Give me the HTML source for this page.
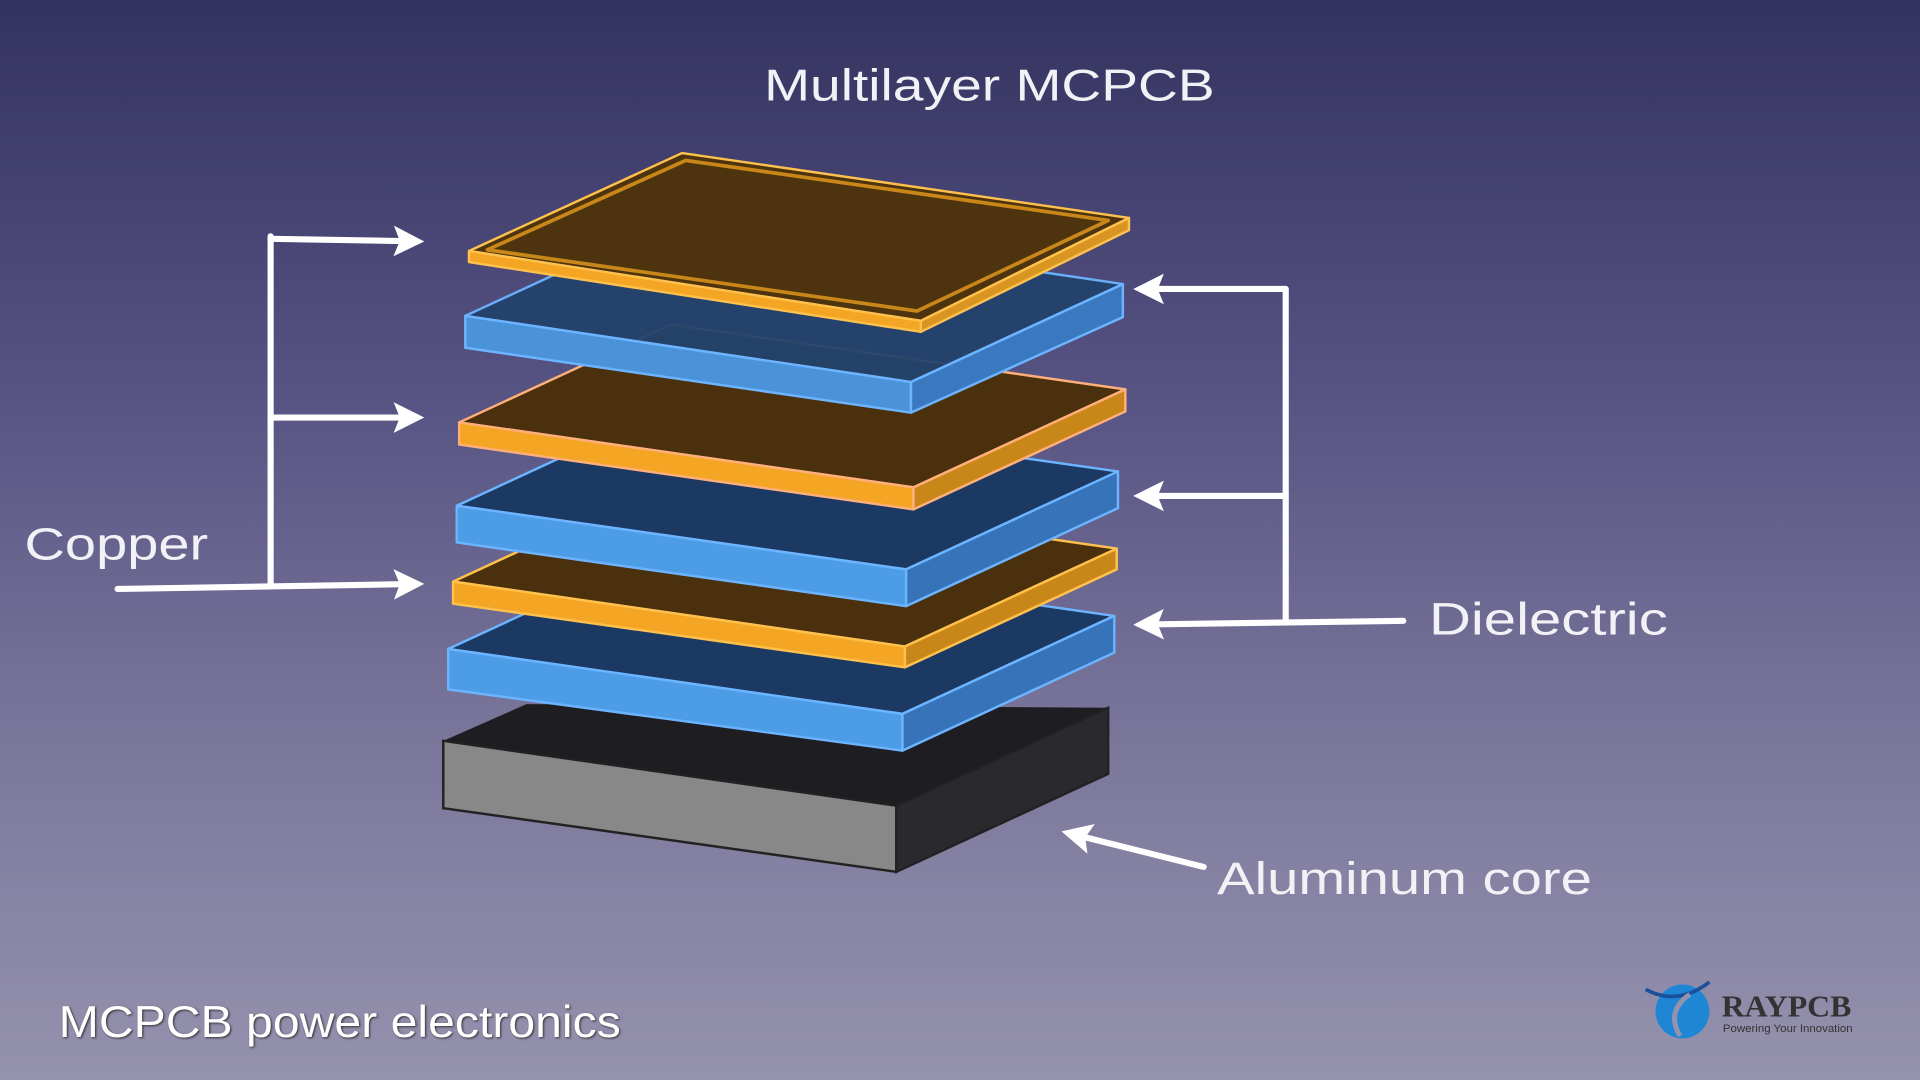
<!DOCTYPE html>
<html><head><meta charset="utf-8"><style>
html,body{margin:0;padding:0;width:1920px;height:1080px;overflow:hidden}
body{background:linear-gradient(180deg,#34325f 0%,#555282 35%,#7c789c 70%,#9592ae 100%)}
svg{display:block}
</style></head><body>
<svg width="1920" height="1080" viewBox="0 0 1568 882" preserveAspectRatio="none" xmlns="http://www.w3.org/2000/svg" font-family="Liberation Sans, DejaVu Sans, sans-serif">
<defs>
<marker id="ah" markerWidth="5" markerHeight="5" refX="2.5" refY="2.5" orient="auto" markerUnits="strokeWidth"><path d="M0,0 L5,2.5 L0,5 L1,2.5 z" fill="#fff"/></marker>
</defs>
<!-- aluminum -->
<polygon points="362,605 430,575 905,578 732,658" fill="#1e1e22"/>
<polygon points="362,605 732,658 732,712 362,660" fill="#888" stroke="#222" stroke-width="2"/>
<polygon points="732,658 905,578 905,632 732,712" fill="#2a2a2e" stroke="#222" stroke-width="2"/>
<g stroke-width="2" stroke-linejoin="round">
<!-- blue 6 -->
<polygon points="366,530 539,450 910,503 737,583" fill="#1b3963" stroke="#6cb4ff"/>
<polygon points="366,530 737,583 737,613 366,563" fill="#4d9ce6" stroke="#6cb4ff"/>
<polygon points="737,583 910,503 910,533 737,613" fill="#3673b8" stroke="#6cb4ff"/>
<!-- copper 5 -->
<polygon points="370,475 543,395 912,448 739,528" fill="#4a300c" stroke="#ffc14d"/>
<polygon points="370,475 739,528 739,545 370,493" fill="#f3a523" stroke="#ffc14d"/>
<polygon points="739,528 912,448 912,465 739,545" fill="#c98719" stroke="#ffc14d"/>
<!-- blue 4 -->
<polygon points="373,413 546,333 913,385 740,465" fill="#1b3963" stroke="#6cb4ff"/>
<polygon points="373,413 740,465 740,495 373,443" fill="#4d9ce6" stroke="#6cb4ff"/>
<polygon points="740,465 913,385 913,415 740,495" fill="#3673b8" stroke="#6cb4ff"/>
<!-- copper 3 -->
<polygon points="375,345 548,265 919,318 746,398" fill="#4a300c" stroke="#ffb07a"/>
<polygon points="375,345 746,398 746,416 375,363" fill="#f3a523" stroke="#ffb07a"/>
<polygon points="746,398 919,318 919,336 746,416" fill="#c98719" stroke="#ffb07a"/>
<!-- blue 2 -->
<polygon points="380,258 553,178 917,232 744,312" fill="#23426d" stroke="#6cb4ff" opacity="0.95"/>
<polygon points="380,258 744,312 744,337 380,284" fill="#4a93d8" stroke="#6cb4ff"/>
<polygon points="744,312 917,232 917,259 744,337" fill="#3a78bf" stroke="#6cb4ff"/>
<!-- copper 1 -->
<polygon points="383,205 557,125 922,178 752,262" fill="#4d340f" stroke="#ffc14d"/>
<polygon points="398,204 560,131 905,180 749,254" fill="none" stroke="#c98719" stroke-width="3"/>
<polygon points="383,205 752,262 752,271 383,214" fill="#f3a523" stroke="#ffc14d"/>
<polygon points="752,262 922,178 922,188 752,271" fill="#d89521" stroke="#ffc14d"/>
</g>
<g stroke="#fff" stroke-width="5" fill="none" stroke-linecap="round">
<polyline points="221,478 221,193"/>
<line x1="221" y1="195" x2="334" y2="197" marker-end="url(#ah)"/>
<line x1="221" y1="341" x2="334" y2="341" marker-end="url(#ah)"/>
<line x1="96" y1="481" x2="334" y2="477" marker-end="url(#ah)"/>
<polyline points="1050,236 1050,505"/>
<line x1="1050" y1="236" x2="938" y2="236" marker-end="url(#ah)"/>
<line x1="1050" y1="405" x2="938" y2="405" marker-end="url(#ah)"/>
<line x1="1146" y1="507" x2="938" y2="510" marker-end="url(#ah)"/>
<line x1="983" y1="708" x2="879" y2="682" marker-end="url(#ah)"/>
</g>
<g fill="#f2f2f6">
<text x="624" y="82" font-size="36" textLength="368" lengthAdjust="spacingAndGlyphs">Multilayer MCPCB</text>
<text x="20" y="457" font-size="37" textLength="150" lengthAdjust="spacingAndGlyphs">Copper</text>
<text x="1167" y="518" font-size="37" textLength="195" lengthAdjust="spacingAndGlyphs">Dielectric</text>
<text x="994" y="730" font-size="37" textLength="306" lengthAdjust="spacingAndGlyphs">Aluminum core</text>
<text x="48" y="847" font-size="36" fill="#fff" textLength="459" lengthAdjust="spacingAndGlyphs" style="text-shadow:1px 1px 2px #333">MCPCB power electronics</text>
</g>
<circle cx="1374" cy="826" r="22" fill="#1f86d6"/>
<path d="M1344,808 Q1370,822 1396,802" stroke="#1a4f9a" stroke-width="3" fill="none"/>
<path d="M1380,812 Q1360,826 1372,846" stroke="#9592ae" stroke-width="4" fill="none"/>
<text x="1406" y="830" font-size="25" font-weight="bold" font-family="Liberation Serif, serif" fill="#333" textLength="106" lengthAdjust="spacingAndGlyphs">RAYPCB</text>
<text x="1407" y="843" font-size="9" fill="#333" textLength="106" lengthAdjust="spacingAndGlyphs">Powering Your Innovation</text>
</svg>
</body></html>
